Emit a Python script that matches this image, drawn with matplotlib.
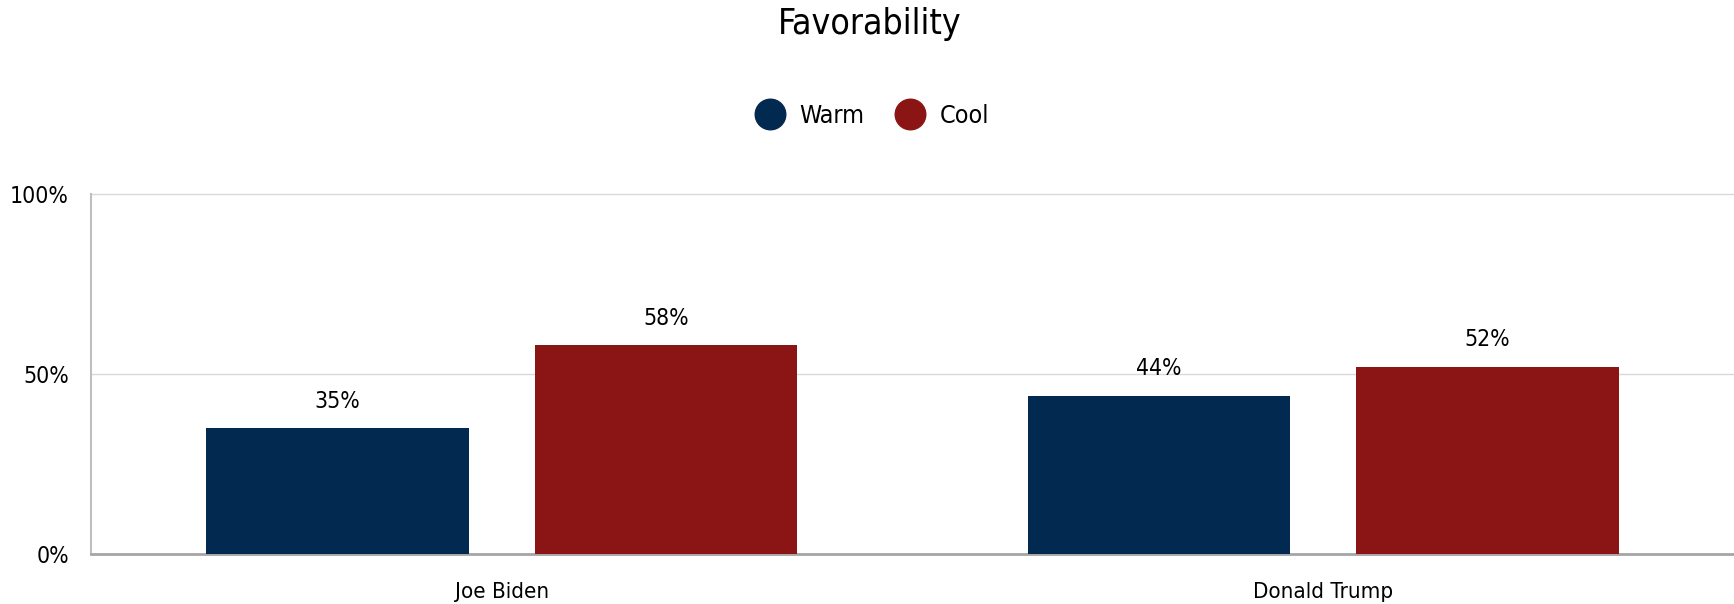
import matplotlib.pyplot as plt
from matplotlib.lines import Line2D
import numpy as np

plt.rcParams['font.family'] = ['DejaVu Sans']
plt.rcParams['font.stretch'] = 'condensed'

candidates = ["Joe Biden", "Donald Trump"]
warm = [35, 44]
cool = [58, 52]
yticks = [0, 50, 100]
ytick_labels = ["0%", "50%", "100%"]

WARM_COLOR = "#02294f"
COOL_COLOR = "#8b1515"

fig = plt.figure(figsize=(17.34, 6.04), dpi=100)
ax = fig.add_axes([91 / 1734, 1 - 554 / 604, 1 - 91 / 1734, (554 - 194) / 604])

x = np.arange(len(candidates))
width = 0.32
b1 = ax.bar(x - 0.2, warm, width, color=WARM_COLOR, zorder=3)
b2 = ax.bar(x + 0.2, cool, width, color=COOL_COLOR, zorder=3)

for bars in (b1, b2):
    for rect in bars:
        ax.annotate(f"{rect.get_height():.0f}%",
                    (rect.get_x() + rect.get_width() / 2, rect.get_height()),
                    xytext=(0, 27), textcoords="offset pixels",
                    ha="center", va="center", fontsize=16.5)

ax.set_xlim(-0.5, 1.5)
ax.set_ylim(0, 100)
ax.set_xticks(x)
ax.set_xticklabels(candidates, fontsize=16)
ax.set_yticks(yticks)
ax.set_yticklabels(ytick_labels, fontsize=16.5)
ax.tick_params(axis="both", length=0)
ax.tick_params(axis="x", pad=20)
ax.tick_params(axis="y", pad=16)

ax.yaxis.grid(True, color="#d9d9d9", linewidth=1, zorder=0)
for gl in ax.yaxis.get_gridlines():
    gl.set_clip_on(False)
ax.set_axisbelow(True)

ax.spines["top"].set_visible(False)
ax.spines["right"].set_visible(False)
ax.spines["left"].set_color("#bfbfbf")
ax.spines["left"].set_linewidth(1.5)
ax.spines["bottom"].set_color("#a6a6a6")
ax.spines["bottom"].set_linewidth(2)

fig.text(870 / 1734, 1 - 24 / 604, "Favorability", ha="center", va="center", fontsize=25.5)

handles = [
    Line2D([], [], marker="o", linestyle="none", markersize=22, color=WARM_COLOR),
    Line2D([], [], marker="o", linestyle="none", markersize=22, color=COOL_COLOR),
]
fig.legend(handles, ["Warm", "Cool"], loc="center", bbox_to_anchor=(872 / 1734, 1 - 116 / 604),
           ncol=2, frameon=False, fontsize=18, handletextpad=0.6, columnspacing=1.2,
           handlelength=1.2)

fig.savefig("out.png", dpi=100)
